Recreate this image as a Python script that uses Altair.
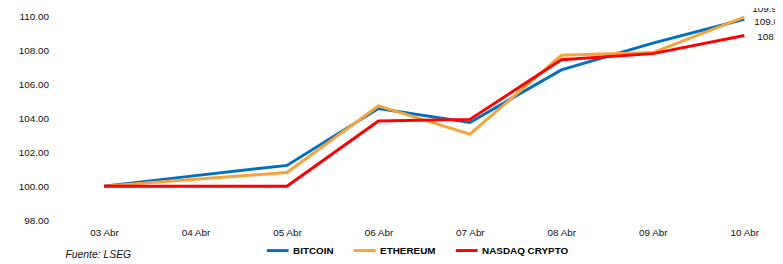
import altair as alt
import pandas as pd

dates = ["03 Abr", "04 Abr", "05 Abr", "06 Abr", "07 Abr", "08 Abr", "09 Abr", "10 Abr"]
bitcoin = [100.0, 100.62, 101.22, 104.57, 103.75, 106.84, 108.42, 109.82]
ethereum = [100.0, 100.40, 100.80, 104.72, 103.06, 107.70, 107.86, 109.95]
nasdaq = [100.0, 100.0, 100.0, 103.83, 103.93, 107.44, 107.80, 108.87]
series_names = ["BITCOIN", "ETHEREUM", "NASDAQ CRYPTO"]
series_colors = ["#0070C0", "#F7A23A", "#FF0000"]
source_note = "Fuente: LSEG"

rows = []
for name, vals in zip(series_names, [bitcoin, ethereum, nasdaq]):
    for i, (d, v) in enumerate(zip(dates, vals)):
        rows.append({"fecha": d, "serie": name, "valor": v, "idx": i})
df = pd.DataFrame(rows)

FONT = "Liberation Sans"

x_scale = alt.Scale(type="point", range=[52, 699], padding=0)
y_scale = alt.Scale(domain=[98, 110], nice=False, zero=False)

x_axis = alt.Axis(title=None, labelAngle=0, domain=False, ticks=False,
                  labelPadding=8, labelFontSize=10, labelFont=FONT,
                  labelColor="#111111", grid=False, labelOverlap=False)
y_axis = alt.Axis(title=None, values=[98, 100, 102, 104, 106, 108, 110],
                  format=".2f", domain=False, ticks=False, grid=False,
                  labelOverlap=False, labelPadding=4, labelFontSize=10,
                  labelFont=FONT, labelColor="#111111")

x_enc = alt.X("fecha:O", sort=dates, scale=x_scale, axis=x_axis)
y_enc = alt.Y("valor:Q", scale=y_scale, axis=y_axis)

lines = alt.Chart(df).mark_line(strokeWidth=3).encode(
    x=x_enc, y=y_enc,
    color=alt.Color("serie:N", sort=series_names,
                    scale=alt.Scale(domain=series_names, range=series_colors),
                    legend=alt.Legend(orient="none", legendX=215, legendY=224,
                                      direction="horizontal", title=None,
                                      symbolType="stroke", symbolStrokeWidth=3,
                                      symbolSize=484, labelFont=FONT,
                                      labelFontWeight="bold", labelFontSize=10,
                                      labelColor="#000000", columnPadding=13,
                                      labelOffset=3)),
)

last = df[df["idx"] == len(dates) - 1]
label_dy = {"BITCOIN": 3, "ETHEREUM": -8, "NASDAQ CRYPTO": 2}
label_dx = {"BITCOIN": 10, "ETHEREUM": 8, "NASDAQ CRYPTO": 13}
labels = []
for name in series_names:
    labels.append(
        alt.Chart(last[last["serie"] == name]).mark_text(
            align="left", baseline="middle", dx=label_dx[name], dy=label_dy[name],
            fontSize=10, font=FONT, color="#111111"
        ).encode(x=x_enc, y=y_enc, text=alt.Text("valor:Q", format=".2f"))
    )

note = alt.Chart(pd.DataFrame({"t": [source_note]})).mark_text(
    align="left", baseline="middle", fontStyle="italic", fontSize=10.5,
    font=FONT, color="#111111"
).encode(x=alt.value(13), y=alt.value(241), text="t:N")

chart = alt.layer(lines, *labels, note).properties(
    width=730, height=206,
    background="white",
    autosize=alt.AutoSizeParams(type="none"),
    padding={"left": 45, "top": 7, "right": 0, "bottom": 43},
).configure_view(strokeWidth=0, stroke="transparent").configure_axis(
    grid=False, domain=False, ticks=False
)

chart.save("out.html", embed_options={"renderer": "svg", "actions": False})
